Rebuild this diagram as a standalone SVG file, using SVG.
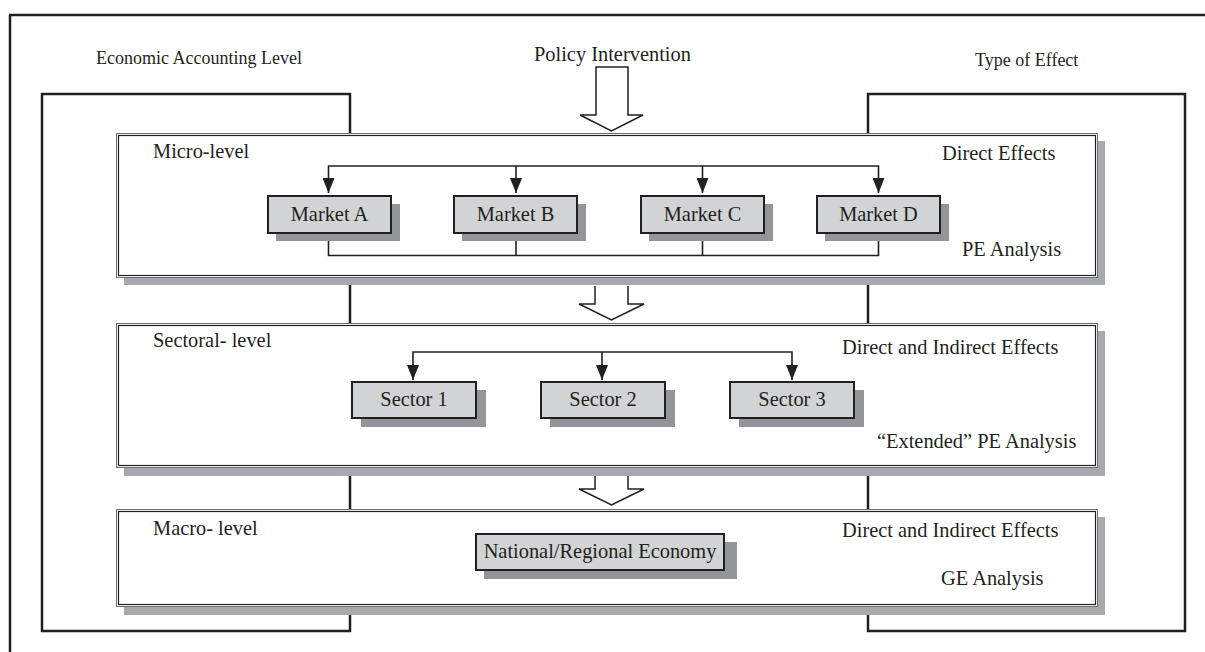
<svg xmlns="http://www.w3.org/2000/svg" width="1205" height="652" viewBox="0 0 1205 652">
<style>
text{font-family:"Liberation Serif","Times New Roman",serif;fill:#231f20;font-size:20.4px}
.hdr{font-size:18px}
.frame{fill:none;stroke:#231f20;stroke-width:2.5}
.bigsh{fill:#a7a9ac}
.bigo{fill:#fff;stroke:#6d6e71;stroke-width:1}
.bigi{fill:none;stroke:#231f20;stroke-width:1.2}
.nsh{fill:#939598}
.nbox{fill:#d1d3d4;stroke:#231f20;stroke-width:2}
.ln{fill:none;stroke:#231f20;stroke-width:1.6}
.hollow{fill:#fff;stroke:#231f20;stroke-width:1.5}
</style>
<defs>
<marker id="ah" viewBox="0 0 15 12" refX="15" refY="6" markerWidth="15" markerHeight="12" markerUnits="userSpaceOnUse" orient="auto">
<path d="M0,0 L15,6 L0,12 Z" fill="#231f20"/>
</marker>
</defs>
<rect width="1205" height="652" fill="#fff"/>
<g id="frame">
<path class="frame" d="M9,15 H1205 M10,15 V652" stroke-width="2"/>
<path class="frame" d="M350,631 H42 V94 H350 Z"/>
<path class="frame" d="M868,631 H1185 V94 H868 Z"/>
<text class="hdr" x="96" y="64" font-size="18.6">Economic Accounting Level</text>
<text class="hdr" x="975" y="65.5">Type of Effect</text>
<text x="534" y="61" font-size="21.2">Policy Intervention</text>
</g>
<g id="micro">
<rect class="bigsh" x="124" y="141" width="981" height="144"/>
<rect class="bigo" x="116.5" y="133.5" width="981" height="144"/>
<rect class="bigi" x="118.5" y="135.5" width="977" height="140"/>
<text x="153" y="158">Micro-level</text>
<text x="942" y="159.5">Direct Effects</text>
<text x="962" y="256">PE Analysis</text>
</g>
<g id="sectoral">
<rect class="bigsh" x="124" y="331" width="981" height="145"/>
<rect class="bigo" x="116.5" y="323.5" width="981" height="144"/>
<rect class="bigi" x="118.5" y="325.5" width="977" height="140"/>
<text x="153" y="347">Sectoral- level</text>
<text x="842" y="354">Direct and Indirect Effects</text>
<text x="877" y="448">“Extended” PE Analysis</text>
</g>
<g id="macro">
<rect class="bigsh" x="124" y="517" width="981" height="98"/>
<rect class="bigo" x="116.5" y="509.5" width="981" height="97"/>
<rect class="bigi" x="118.5" y="511.5" width="977" height="93"/>
<text x="153" y="535">Macro- level</text>
<text x="842" y="537">Direct and Indirect Effects</text>
<text x="941" y="584.5">GE Analysis</text>
</g>
<g id="connectors">
<path class="hollow" d="M596,67 H628 V115 H643 L611.5,131 L580,115 H596 Z"/>
<path class="hollow" d="M595,286 V304 H579 L611.5,320 L644,304 H628 V286"/>
<path class="hollow" d="M595,476 V489 H579 L611.5,505 L644,489 H628 V476"/>
<path class="ln" d="M328.5,180 V166 H878.5 V180 M516,166 V180 M702.5,166 V180"/>
<line class="ln" x1="328.5" y1="178" x2="328.5" y2="193" marker-end="url(#ah)"/>
<line class="ln" x1="516" y1="178" x2="516" y2="193" marker-end="url(#ah)"/>
<line class="ln" x1="702.5" y1="178" x2="702.5" y2="193" marker-end="url(#ah)"/>
<line class="ln" x1="878.5" y1="178" x2="878.5" y2="193" marker-end="url(#ah)"/>
<path class="ln" d="M328.5,233 V255.5 H878.5 V233 M516,233 V255.5 M702.5,233 V255.5"/>
<path class="ln" d="M413,366 V352 H792 V366 M602,352 V366"/>
<line class="ln" x1="413" y1="364" x2="413" y2="380" marker-end="url(#ah)"/>
<line class="ln" x1="602" y1="364" x2="602" y2="380" marker-end="url(#ah)"/>
<line class="ln" x1="792" y1="364" x2="792" y2="380" marker-end="url(#ah)"/>
</g>
<g id="marketA">
<rect class="nsh" x="276" y="204" width="124" height="37"/>
<rect class="nbox" x="268" y="196" width="123" height="37"/>
<text x="329.5" y="221" text-anchor="middle">Market A</text>
</g>
<g id="marketB">
<rect class="nsh" x="462" y="204" width="124" height="37"/>
<rect class="nbox" x="454" y="196" width="123" height="37"/>
<text x="515.5" y="221" text-anchor="middle">Market B</text>
</g>
<g id="marketC">
<rect class="nsh" x="649" y="204" width="124" height="37"/>
<rect class="nbox" x="641" y="196" width="123" height="37"/>
<text x="702.5" y="221" text-anchor="middle">Market C</text>
</g>
<g id="marketD">
<rect class="nsh" x="825" y="204" width="124" height="37"/>
<rect class="nbox" x="817" y="196" width="123" height="37"/>
<text x="878.5" y="221" text-anchor="middle">Market D</text>
</g>
<g id="sector1">
<rect class="nsh" x="361" y="390" width="125" height="37"/>
<rect class="nbox" x="352" y="382" width="124" height="36"/>
<text x="414" y="406" text-anchor="middle">Sector 1</text>
</g>
<g id="sector2">
<rect class="nsh" x="550" y="390" width="125" height="37"/>
<rect class="nbox" x="541" y="382" width="124" height="36"/>
<text x="603" y="406" text-anchor="middle">Sector 2</text>
</g>
<g id="sector3">
<rect class="nsh" x="739" y="390" width="125" height="37"/>
<rect class="nbox" x="730" y="382" width="124" height="36"/>
<text x="792" y="406" text-anchor="middle">Sector 3</text>
</g>
<g id="national">
<rect class="nsh" x="484" y="542" width="253" height="37"/>
<rect class="nbox" x="476" y="534" width="248" height="36"/>
<text x="600" y="558" text-anchor="middle">National/Regional Economy</text>
</g>
</svg>
